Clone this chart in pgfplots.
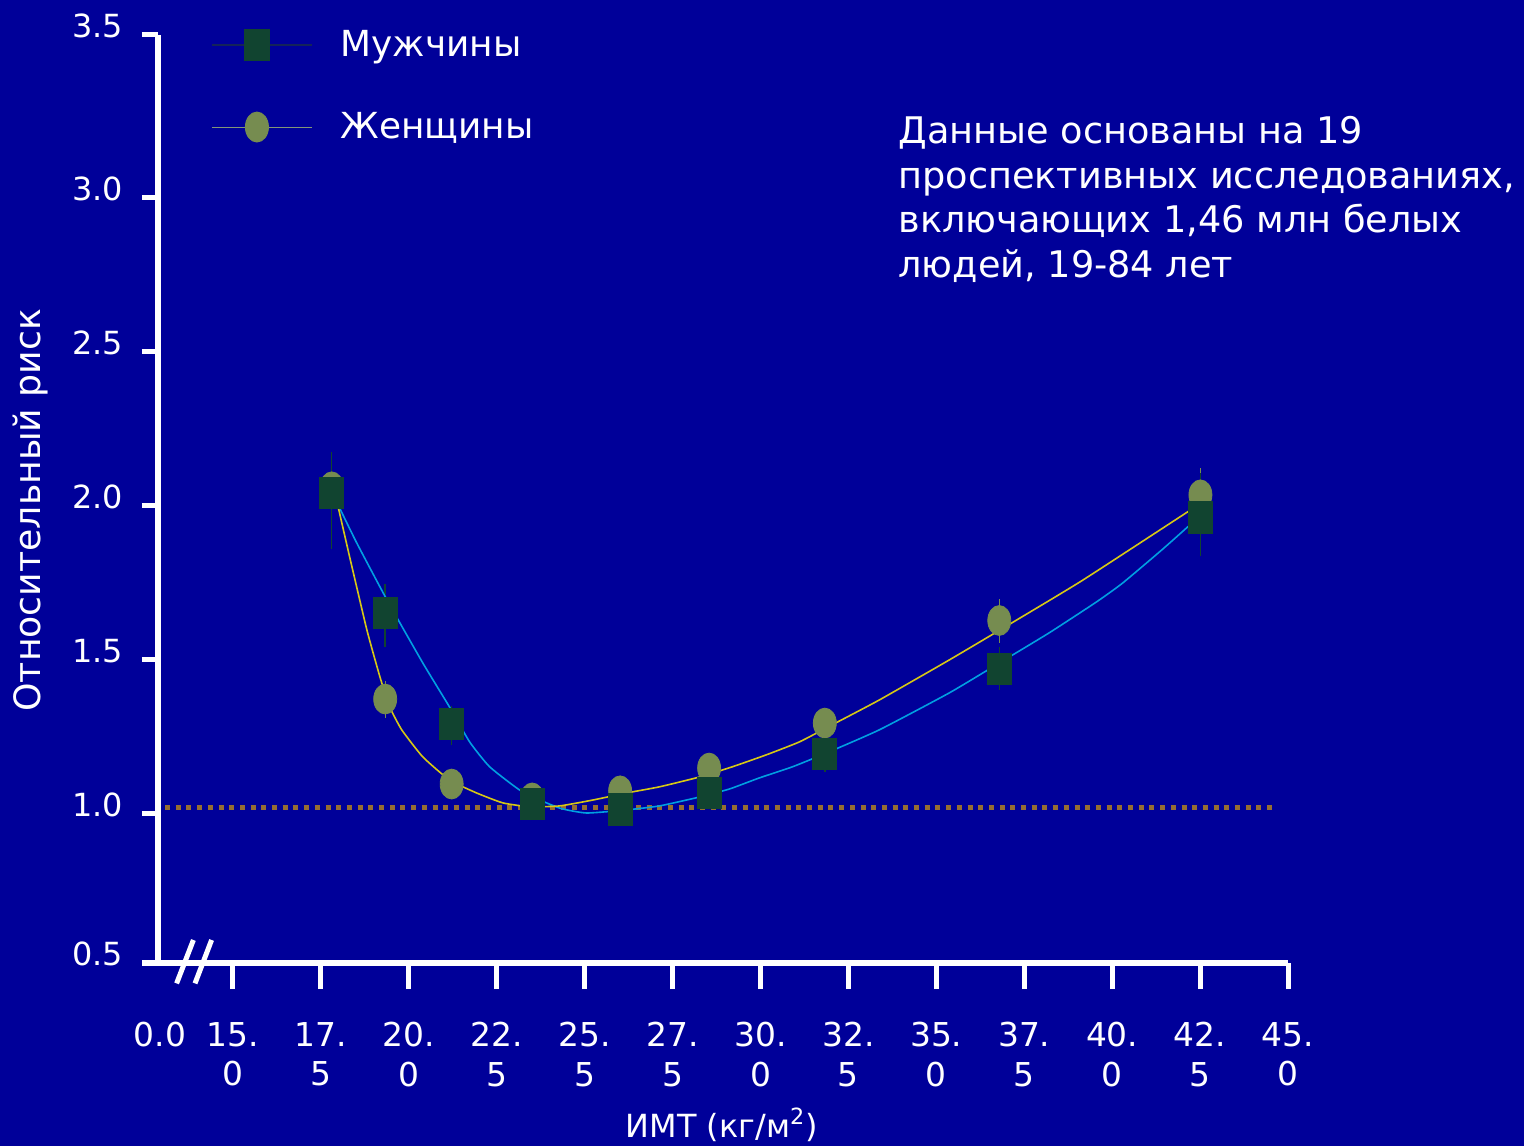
\documentclass[border=0pt]{standalone}
\usepackage{pgfplots}
\pgfplotsset{compat=1.18}
\usepackage{fontspec}
\setmainfont{DejaVu Sans}

\definecolor{bg}{RGB}{0,0,153}
\definecolor{mensq}{RGB}{17,68,48}
\definecolor{womcirc}{RGB}{118,140,80}
\definecolor{menline}{RGB}{0,160,225}
\definecolor{womline}{RGB}{215,200,20}
\definecolor{dotc}{RGB}{150,110,50}
\definecolor{legmen}{RGB}{20,35,90}
\definecolor{legwom}{RGB}{130,150,120}

\begin{document}
\begin{tikzpicture}
\fill[bg] (0,0) rectangle (762bp,573bp);
\path[use as bounding box] (0,0) rectangle (762bp,573bp);

\begin{axis}[
  at={(79bp,91.5bp)}, anchor=south west,
  scale only axis, width=565bp, height=464bp,
  xmin=12.87, xmax=45, ymin=0.516, ymax=3.529,
  clip=false,
  axis lines=left,
  axis line style={white, line width=2.5bp, -},
  tick style={white, line width=2.5bp},
  tick align=outside,
  major tick length=8bp,
  xtick style={/pgfplots/major tick length=13bp},
  xtick={15,17.5,20,22.5,25,27.5,30,32.5,35,37.5,40,42.5,45},
  xticklabels={{15.\\0},{17.\\5},{20.\\0},{22.\\5},{25.\\5},{27.\\5},{30.\\0},{32.\\5},{35.\\0},{37.\\5},{40.\\0},{42.\\5},{45.\\0}},
  extra x ticks={12.93},
  extra x tick labels={0.0},
  extra x tick style={tick style={draw=none}},
  ytick={0.516,1,1.5,2,2.5,3,3.529},
  yticklabels={0.5,1.0,1.5,2.0,2.5,3.0,3.5},
  xticklabel style={font=\fontsize{16.5}{20}\selectfont, text=white, align=center, yshift=-18bp},
  yticklabel style={font=\fontsize{16}{18}\selectfont, text=white, xshift=-6bp, yshift=4.5bp},
  xlabel={ИМТ (кг/м\textsuperscript{2})},
  xlabel style={at={(axis description cs:0.499,-0.1875)}, anchor=base, text=white, font=\fontsize{16}{19}\selectfont},
  ylabel={Относительный риск},
  ylabel style={at={(axis description cs:-0.1044,0.488)}, anchor=base, text=white, font=\fontsize{18.2}{20}\selectfont},
  legend image code/.code={
    \draw[mark repeat=2,mark phase=2] plot coordinates {(0bp,0bp) (22.5bp,0bp) (50bp,0bp)};
  },
  legend style={draw=none, fill=none, text=white, font=\fontsize{18}{22}\selectfont,
    at={(axis description cs:0.045,1.0)}, anchor=north west,
    xshift=-2bp, yshift=6.5bp, row sep=22.5bp, column sep=12bp,
    legend cell align=left},
]

% legend samples
\addlegendimage{legmen, line width=0.7bp, mark=square*, mark size=6bp,
  mark options={fill=mensq, draw=mensq, yscale=1.3, solid}}
\addlegendentry{Мужчины}
\addlegendimage{legwom, line width=0.5bp, mark=*, mark size=5.75bp,
  mark options={fill=womcirc, draw=womcirc, yscale=1.3, solid}}
\addlegendentry{Женщины}

% reference level (relative risk ~ 1)
\addplot[forget plot, dotc, line width=2.5bp, dash pattern=on 2.5bp off 2.85bp]
  coordinates {(13.07,1.021) (44.69,1.021)};

% women: point estimates with confidence intervals
\addplot[forget plot, only marks, mark=*, mark size=5.75bp,
  mark options={fill=womcirc, draw=womcirc, yscale=1.3},
  error bars/.cd, y dir=both, y explicit,
  error bar style={womcirc, line width=0.6bp}, error mark=none]
  coordinates {
  (17.81,2.062) += (0,0.110) -= (0,0.110)
  (19.33,1.373) += (0,0.060) -= (0,0.060)
  (21.22,1.097) += (0,0.040) -= (0,0.040)
  (23.51,1.052) += (0,0.030) -= (0,0.030)
  (26.01,1.075) += (0,0.030) -= (0,0.030)
  (28.54,1.149) += (0,0.040) -= (0,0.040)
  (31.83,1.295) += (0,0.045) -= (0,0.045)
  (36.79,1.628) += (0,0.070) -= (0,0.073)
  (42.51,2.036) += (0,0.087) -= (0,0.080)
  };

% men: point estimates with confidence intervals
\addplot[forget plot, only marks, mark=square*, mark size=6bp,
  mark options={fill=mensq, draw=mensq, yscale=1.3},
  error bars/.cd, y dir=both, y explicit,
  error bar style={mensq, line width=0.7bp}, error mark=none]
  coordinates {
  (17.81,2.041) += (0,0.134) -= (0,0.181)
  (19.33,1.653) += (0,0.094) -= (0,0.111)
  (21.21,1.292) += (0,0.060) -= (0,0.068)
  (23.51,1.032) += (0,0.030) -= (0,0.030)
  (26.01,1.015) += (0,0.030) -= (0,0.030)
  (28.54,1.068) += (0,0.030) -= (0,0.050)
  (31.83,1.195) += (0,0.050) -= (0,0.059)
  (36.79,1.472) += (0,0.070) -= (0,0.069)
  (42.51,1.963) += (0,0.144) -= (0,0.125)
  };

% fitted curve, men
\addplot[forget plot, menline, line width=0.8bp, smooth, tension=0.3] coordinates {
  (17.95,2.013) (18.52,1.880) (19.38,1.695) (20.40,1.490) (21.16,1.347)
  (21.73,1.234) (22.30,1.153) (23.24,1.071) (24.29,1.019) (25.06,1.003)
  (26.19,1.013) (27.13,1.026) (28.27,1.055) (29.12,1.081) (29.97,1.117)
  (30.91,1.153) (31.88,1.198) (33.38,1.273) (35.37,1.393) (36.79,1.490)
  (38.21,1.588) (39.55,1.688) (40.28,1.748) (41.42,1.858) (42.56,1.974)
};

% fitted curve, women
\addplot[forget plot, womline, line width=0.8bp, smooth, tension=0.3] coordinates {
  (17.98,2.003) (18.32,1.834) (18.81,1.597) (19.18,1.445) (19.46,1.347)
  (19.80,1.273) (20.40,1.185) (21.16,1.110) (21.93,1.068) (22.67,1.036)
  (23.44,1.023) (24.29,1.026) (25.23,1.045) (26.19,1.068) (27.13,1.088)
  (28.27,1.120) (29.20,1.153) (30.17,1.192) (31.11,1.234) (32.05,1.290)
  (33.38,1.370) (35.37,1.500) (37.07,1.615) (39.15,1.758) (42.19,1.984)
};
\end{axis}

% axis break marks
\draw[white, line width=2.5bp] (88.3bp,81.3bp) -- (96.7bp,103bp);
\draw[white, line width=2.5bp] (97.5bp,81.3bp) -- (105.8bp,103bp);

% study note
\begin{scope}[every node/.style={text=white, anchor=base west, inner sep=0pt, font=\fontsize{18.4}{22}\selectfont}]
\node at (449bp,501bp) {Данные основаны на 19};
\node at (449bp,478.5bp) {проспективных исследованиях,};
\node at (449bp,456.5bp) {включающих 1,46 млн белых};
\node at (449bp,434bp) {людей, 19-84 лет};
\end{scope}
\end{tikzpicture}
\end{document}
